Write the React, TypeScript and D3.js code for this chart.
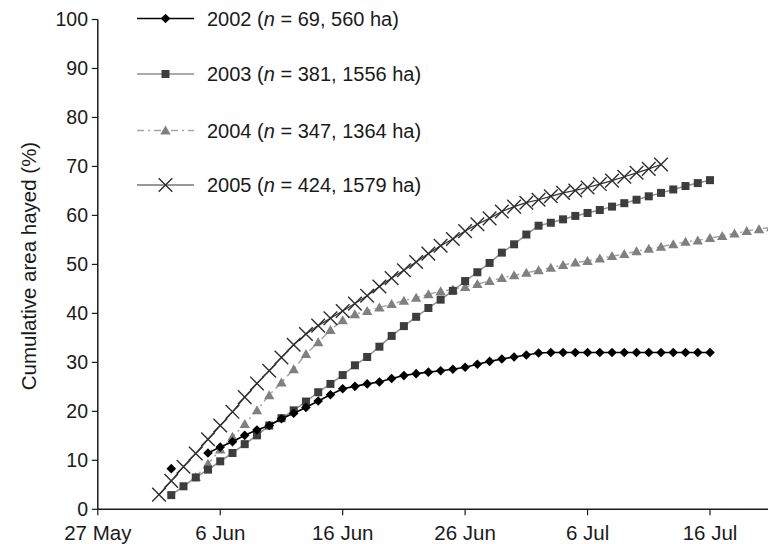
import React from 'react';
import * as d3 from 'd3';

const W = 768;
const H = 544;

// one category per day, 1 Jun .. 21 Jul 2005
const dates = d3.utcDay.range(new Date(Date.UTC(2005, 5, 1)), new Date(Date.UTC(2005, 6, 22)));

const tickDates = [
	new Date(Date.UTC(2005, 4, 27)),
	new Date(Date.UTC(2005, 5, 6)),
	new Date(Date.UTC(2005, 5, 16)),
	new Date(Date.UTC(2005, 5, 26)),
	new Date(Date.UTC(2005, 6, 6)),
	new Date(Date.UTC(2005, 6, 16)),
];
const yTicks = [0, 10, 20, 30, 40, 50, 60, 70, 80, 90, 100];

const years = ['2002', '2003', '2004', '2005'];
const sampleN = [69, 381, 347, 424];
const sampleHa = [560, 1556, 1364, 1579];

const s2002 = [
	null, 8.3, null, null, 11.5, 12.7, 13.8, 15.1, 16.2, 17.1, 18.5, 19.6, 20.8, 22.1, 23.4, 24.6, 25.1,
	25.6, 26.0, 26.7, 27.3, 27.7, 28.0, 28.3, 28.6, 29.0, 29.6, 30.2, 30.7, 31.1, 31.5, 31.9, 32.0, 32.0,
	32.0, 32.0, 32.0, 32.0, 32.0, 32.0, 32.0, 32.0, 32.0, 32.0, 32.0, 32.0, null, null, null, null, null,
];
const s2003 = [
	null, 2.9, 4.7, 6.5, 8.1, 9.8, 11.5, 13.3, 15.1, 17.1, 18.6, 20.2, 22.0, 23.9, 25.6, 27.4, 29.4,
	31.1, 33.2, 35.4, 37.4, 39.3, 41.1, 42.8, 44.6, 46.6, 48.4, 50.3, 52.4, 54.1, 56.1, 57.9, 58.5, 59.2,
	59.9, 60.5, 61.1, 61.8, 62.5, 63.2, 63.9, 64.6, 65.3, 66.0, 66.6, 67.2, null, null, null, null, null,
];
const s2004 = [
	null, null, null, 6.6, 9.3, 12.2, 14.8, 17.4, 20.2, 23.3, 25.9, 28.6, 31.7, 34.1, 36.6, 38.6, 39.8,
	40.5, 41.2, 41.9, 42.6, 43.2, 43.9, 44.5, 44.9, 45.4, 46.0, 46.6, 47.2, 47.8, 48.3, 48.8, 49.3, 49.9,
	50.4, 50.7, 51.2, 51.7, 52.1, 52.7, 53.2, 53.6, 54.1, 54.6, 54.9, 55.4, 55.8, 56.3, 56.8, 57.2, 57.6,
];
const s2005 = [
	3.0, 5.8, 8.7, 11.4, 14.3, 17.1, 19.9, 22.9, 25.7, 28.3, 31.0, 33.6, 35.8, 37.5, 39.0, 40.5, 42.0,
	43.6, 45.5, 47.2, 48.8, 50.5, 52.2, 53.8, 55.2, 56.8, 58.2, 59.4, 60.8, 61.8, 62.6, 63.2, 63.9, 64.6,
	65.1, 65.7, 66.4, 67.1, 67.9, 68.7, 69.5, 70.4, null, null, null, null, null, null, null, null, null,
];

const FONT = '"Liberation Sans", Arial, Helvetica, sans-serif';
const INK = '#1a1a1a';

const x = d3
	.scaleUtc()
	.domain([new Date(Date.UTC(2005, 4, 27)), new Date(Date.UTC(2005, 6, 16))])
	.range([97.8, 710]);
const y = d3.scaleLinear().domain([0, 100]).range([509.3, 19.5]);
const fmt = d3.utcFormat('%-d %b');

function marker(kind: string, cx: number, cy: number, key: string | number) {
	if (kind === 'diamond') {
		const r = 4.8;
		return (
			<path key={key} d={`M${cx},${cy - r}L${cx + r},${cy}L${cx},${cy + r}L${cx - r},${cy}Z`} fill="#000" />
		);
	}
	if (kind === 'square') {
		const r = 4;
		return <rect key={key} x={cx - r} y={cy - r} width={2 * r} height={2 * r} fill="#3d3d3d" />;
	}
	if (kind === 'triangle') {
		return (
			<path key={key} d={`M${cx},${cy - 5}L${cx + 5.2},${cy + 4}L${cx - 5.2},${cy + 4}Z`} fill="#808080" />
		);
	}
	const r = 6.8;
	return (
		<path
			key={key}
			d={`M${cx - r},${cy - r}L${cx + r},${cy + r}M${cx - r},${cy + r}L${cx + r},${cy - r}`}
			stroke="#2e2e2e"
			strokeWidth={1.4}
			fill="none"
		/>
	);
}

const series = [
	{ values: s2004, kind: 'triangle', stroke: '#a6a6a6', dash: '7,4,2,4', width: 1.5 },
	{ values: s2003, kind: 'square', stroke: '#8f8f8f', dash: null, width: 1.5 },
	{ values: s2002, kind: 'diamond', stroke: '#000', dash: null, width: 1.6 },
	{ values: s2005, kind: 'x', stroke: '#333', dash: null, width: 1.2 },
];
const legendStyle = [
	{ kind: 'diamond', stroke: '#000', dash: null, width: 1.6 },
	{ kind: 'square', stroke: '#8f8f8f', dash: null, width: 1.5 },
	{ kind: 'triangle', stroke: '#a6a6a6', dash: '7,4,2,4', width: 1.5 },
	{ kind: 'x', stroke: '#333', dash: null, width: 1.2 },
];
const legendRows = [18.5, 74, 130.5, 185];

export default function App() {
	const line = d3
		.line<number | null>()
		.defined((v) => v != null)
		.x((_, i) => x(dates[i]))
		.y((v) => y(v as number));

	return (
		<div style={{ position: 'fixed', left: 0, top: 0 }}>
			<svg width={W} height={H} style={{ display: 'block', background: '#fff' }} fontFamily={FONT}>
				{/* y axis */}
				<line x1={x.range()[0]} x2={x.range()[0]} y1={y(100)} y2={y(0)} stroke={INK} strokeWidth={1.5} />
				{yTicks.map((t) => (
					<g key={t} transform={`translate(0,${y(t)})`}>
						<line x1={x.range()[0] - 6} x2={x.range()[0]} stroke={INK} strokeWidth={1.2} />
						<text x={88} dy="0.35em" textAnchor="end" fontSize={19.5} fill={INK}>
							{t}
						</text>
					</g>
				))}
				<text
					transform={`translate(36,266) rotate(-90)`}
					textAnchor="middle"
					fontSize={20.5}
					fill={INK}
				>
					Cumulative area hayed (%)
				</text>

				{/* x axis */}
				<line x1={x.range()[0]} x2={W} y1={y(0)} y2={y(0)} stroke={INK} strokeWidth={1.5} />
				{tickDates.map((d, i) => (
					<g key={i} transform={`translate(${x(d)},${y(0)})`}>
						<line y1={0} y2={6} stroke={INK} strokeWidth={1.2} />
						<text y={31} textAnchor="middle" fontSize={20.5} fill={INK}>
							{fmt(d)}
						</text>
					</g>
				))}

				{/* series */}
				{series.map((s, si) => (
					<g key={si}>
						<path
							d={line(s.values) || ''}
							fill="none"
							stroke={s.stroke}
							strokeWidth={s.width}
							strokeDasharray={s.dash || undefined}
						/>
						{s.values.map((v, i) =>
							v == null ? null : marker(s.kind, x(dates[i]), y(v), i)
						)}
					</g>
				))}

				{/* legend */}
				{years.map((yr, i) => {
					const st = legendStyle[i];
					const cy = legendRows[i];
					return (
						<g key={yr}>
							<line
								x1={137}
								x2={194}
								y1={cy}
								y2={cy}
								stroke={st.stroke}
								strokeWidth={st.width}
								strokeDasharray={st.dash || undefined}
							/>
							{marker(st.kind, 165.5, cy, 'm')}
							<text x={207} y={cy} dy="0.36em" fontSize={20} fill={INK}>
								{yr} (<tspan fontStyle="italic">n</tspan> = {sampleN[i]}, {sampleHa[i]} ha)
							</text>
						</g>
					);
				})}
			</svg>
		</div>
	);
}
